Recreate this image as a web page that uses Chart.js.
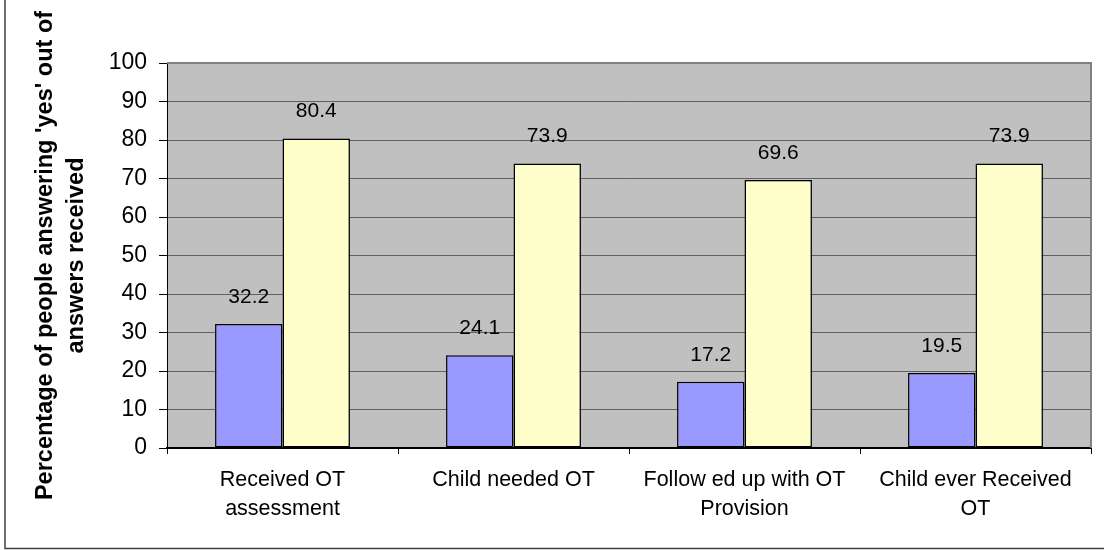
<!DOCTYPE html>
<html>
<head>
<meta charset="utf-8">
<script src="https://cdn.jsdelivr.net/npm/chart.js@4/dist/chart.umd.min.js"></script>
<style>
  html, body { margin: 0; padding: 0; background: #ffffff; }
  #wrap { width: 1104px; height: 550px; }
</style>
</head>
<body>
<div id="wrap"><canvas id="c" width="1104" height="550"></canvas></div>
<script>
const categories = [
  ['Received OT', 'assessment'],
  ['Child needed OT'],
  ['Follow ed up with OT', 'Provision'],
  ['Child ever Received', 'OT']
];
const seriesA = [32.2, 24.1, 17.2, 19.5];
const seriesB = [80.4, 73.9, 69.6, 73.9];
const yTitle = ["Percentage of people answering 'yes' out of", 'answers received'];

const FONT = "'Liberation Sans', Arial, sans-serif";

const plotBg = {
  id: 'plotBg',
  beforeDraw(chart) {
    const { ctx, chartArea: a } = chart;
    ctx.save();
    ctx.fillStyle = '#ffffff';
    ctx.fillRect(0, 0, chart.width, chart.height);
    ctx.fillStyle = '#C0C0C0';
    ctx.fillRect(a.left, a.top, a.right - a.left, a.bottom - a.top);
    ctx.strokeStyle = '#404040';
    ctx.lineWidth = 1.5;
    ctx.beginPath();
    ctx.moveTo(5, -5);
    ctx.lineTo(5, 548.5);
    ctx.lineTo(1110, 548.5);
    ctx.stroke();
    ctx.restore();
  },
  beforeDatasetsDraw(chart) {
    const { ctx, chartArea: a } = chart;
    ctx.save();
    ctx.strokeStyle = '#808080';
    ctx.lineWidth = 2;
    ctx.beginPath();
    ctx.moveTo(a.left, a.top);
    ctx.lineTo(a.right, a.top);
    ctx.lineTo(a.right, a.bottom);
    ctx.stroke();
    ctx.restore();
  }
};

const valueLabels = {
  id: 'valueLabels',
  afterDatasetsDraw(chart) {
    const { ctx } = chart;
    ctx.save();
    ctx.font = '21px ' + FONT;
    ctx.fillStyle = '#000000';
    ctx.textAlign = 'center';
    ctx.textBaseline = 'middle';
    chart.data.datasets.forEach((ds, i) => {
      const meta = chart.getDatasetMeta(i);
      meta.data.forEach((bar, j) => {
        ctx.fillText(String(ds.data[j]), bar.x, bar.y - 27);
      });
    });
    ctx.restore();
  }
};

new Chart(document.getElementById('c'), {
  type: 'bar',
  data: {
    labels: categories,
    datasets: [
      {
        data: seriesA,
        backgroundColor: '#9999FF',
        borderColor: '#000000',
        borderWidth: 1.5,
        borderSkipped: false
      },
      {
        data: seriesB,
        backgroundColor: '#FFFFCC',
        borderColor: '#000000',
        borderWidth: 1.5,
        borderSkipped: false
      }
    ]
  },
  options: {
    responsive: false,
    animation: false,
    devicePixelRatio: 1,
    layout: { padding: { left: 0, top: 63, right: 13, bottom: 0 } },
    datasets: { bar: { categoryPercentage: 0.584, barPercentage: 1.0 } },
    plugins: {
      legend: { display: false },
      tooltip: { enabled: false }
    },
    scales: {
      x: {
        offset: true,
        grid: {
          offset: true,
          drawOnChartArea: false,
          drawTicks: true,
          tickLength: 6,
          color: '#000000',
          tickColor: '#000000'
        },
        border: { display: true, color: '#000000', width: 2 },
        ticks: {
          color: '#000000',
          font: { family: FONT, size: 21.5, lineHeight: 1.36 },
          padding: 11,
          maxRotation: 0,
          autoSkip: false
        },
        afterFit(scale) { scale.height = 102; }
      },
      y: {
        min: 0,
        max: 100,
        ticks: {
          stepSize: 10,
          color: '#000000',
          font: { family: FONT, size: 23 },
          padding: 12
        },
        grid: {
          color: '#606060',
          lineWidth: 1,
          tickLength: 8,
          tickColor: '#000000'
        },
        border: { display: true, color: '#000000', width: 1 },
        title: {
          display: true,
          text: yTitle,
          color: '#000000',
          font: { family: FONT, size: 23.5, weight: 'bold', lineHeight: 1.32 },
          padding: { top: 30, bottom: 0 }
        },
        afterFit(scale) { scale.width = 167; }
      }
    }
  },
  plugins: [plotBg, valueLabels]
});
</script>
</body>
</html>
